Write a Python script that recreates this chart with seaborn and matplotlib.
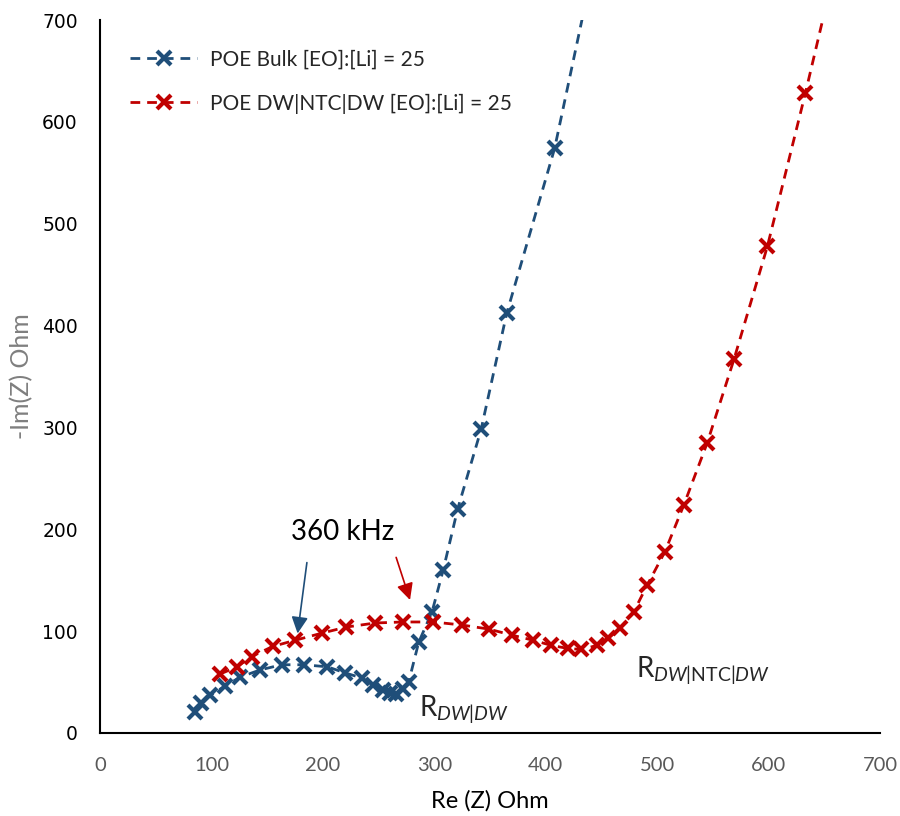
import matplotlib
matplotlib.use("Agg")
import matplotlib.pyplot as plt
import seaborn as sns

# Nyquist data (Ohm)
bulk_re = [85, 91, 99, 112, 126, 144, 163, 183, 204, 220, 235, 245, 254, 260, 266, 272, 277, 286, 298, 308, 321, 342, 365, 408, 450]
bulk_im = [21, 29, 37, 46, 55, 62, 67, 67, 65, 59, 54, 47, 42, 39, 38, 43, 50, 89, 119, 160, 220, 298, 412, 574, 790]

ntc_re = [108, 123, 136, 155, 175, 199, 221, 247, 272, 299, 325, 349, 370, 389, 405, 420, 432, 446, 456, 467, 479, 491, 507, 524, 545, 569, 599, 633, 668]
ntc_im = [58, 65, 75, 85, 91, 98, 104, 108, 109, 109, 106, 102, 96, 91, 86, 83, 82, 86, 93, 103, 119, 145, 178, 224, 285, 367, 478, 628, 790]

series_names = ["POE Bulk [EO]:[Li] = 25", "POE DW|NTC|DW [EO]:[Li] = 25"]
blue = "#1F4E79"
red = "#C00000"

sns.set_theme(style="white")
plt.rcParams["font.family"] = ["Lato", "DejaVu Sans"]
plt.rcParams["mathtext.fontset"] = "custom"
plt.rcParams["mathtext.rm"] = "Lato"
plt.rcParams["mathtext.it"] = "Lato:italic"

fig = plt.figure(figsize=(9, 8.16), dpi=100)
ax = fig.add_axes([100 / 900, 1 - 733 / 816, 780 / 900, 713 / 816])

for xs, ys, col, name in [(bulk_re, bulk_im, blue, series_names[0]),
                          (ntc_re, ntc_im, red, series_names[1])]:
    sns.lineplot(x=xs, y=ys, sort=False, estimator=None, ax=ax, color=col,
                 linestyle=(0, (3.5, 2.5)), linewidth=2, marker="x",
                 markersize=10, markeredgewidth=3, markeredgecolor=col,
                 label=name)

ax.set_xlim(0, 700)
ax.set_ylim(0, 700)
ax.set_xticks(range(0, 701, 100))
ax.set_yticks(range(0, 701, 100))

for s in ["top", "right"]:
    ax.spines[s].set_visible(False)
for s in ["left", "bottom"]:
    ax.spines[s].set_color("black")
    ax.spines[s].set_linewidth(1.5)

ax.tick_params(axis="x", direction="inout", length=10, width=1.2, color="black",
               labelsize=14.5, labelcolor="#595959", pad=12)
ax.tick_params(axis="y", direction="out", length=6, width=1.2, color="black",
               labelsize=13.5, labelcolor="black", pad=10)
for lab in ax.get_yticklabels():
    lab.set_family("DejaVu Sans")

ax.set_xlabel("Re (Z) Ohm", fontsize=17, color="black", labelpad=12)
ax.set_ylabel("-Im(Z) Ohm", fontsize=18, color="#7F7F7F", labelpad=6)

# annotations
ax.text(218, 197, "360 kHz", fontsize=20, ha="center", va="center", color="black")
ax.annotate("", xy=(177, 95), xytext=(186, 170),
            arrowprops=dict(arrowstyle="-|>", color=blue, lw=1.2, mutation_scale=25))
ax.annotate("", xy=(279, 128), xytext=(265, 175),
            arrowprops=dict(arrowstyle="-|>", color=red, lw=1.2, mutation_scale=25))
ax.text(286, 24, r"R$_{DW|DW}$", fontsize=20, ha="left", va="center")
ax.text(481, 62, r"R$_{DW|\mathrm{NTC}|DW}$", fontsize=20, ha="left", va="center")

leg = ax.legend(loc="upper left", bbox_to_anchor=(0.015, 0.985), frameon=False,
                fontsize=15, handlelength=3.2, handletextpad=0.6, labelspacing=1.15)

fig.savefig("out.png", dpi=100)
